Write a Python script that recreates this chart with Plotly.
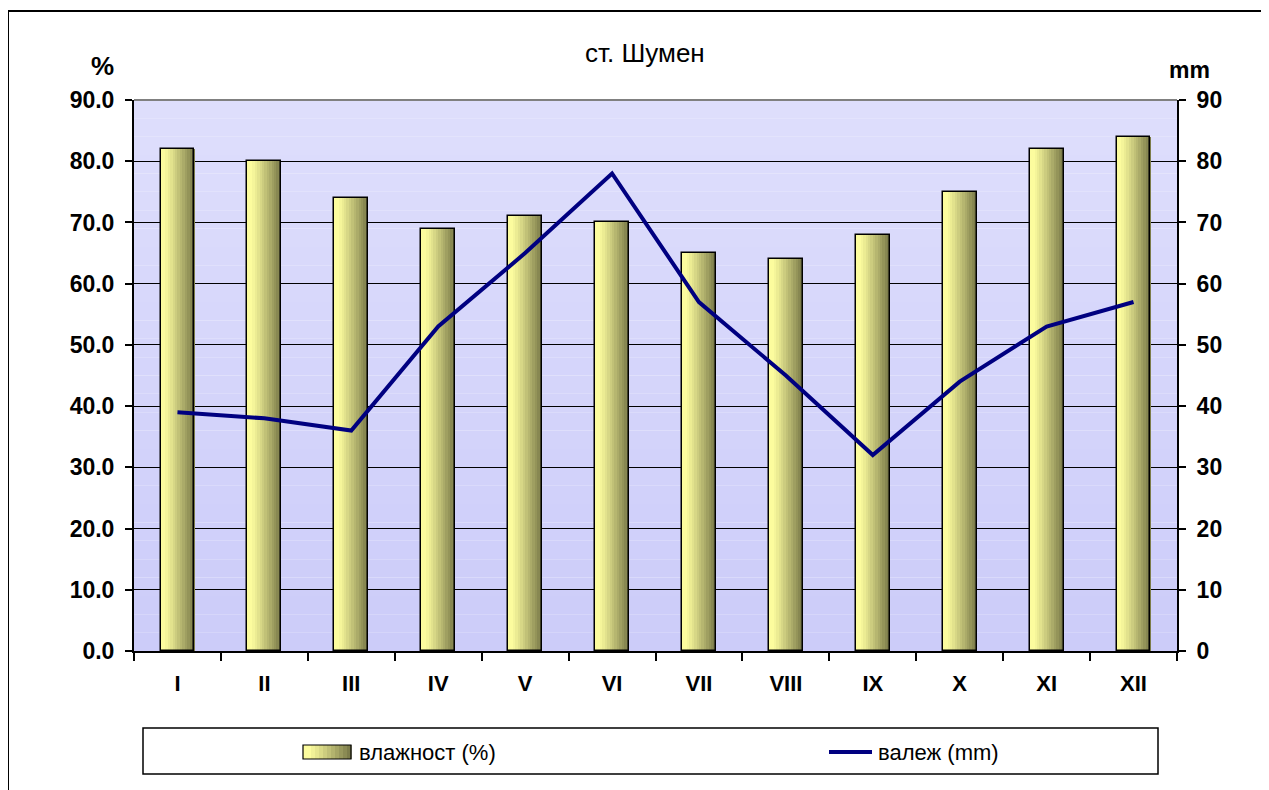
import plotly.graph_objects as go

months = ["I", "II", "III", "IV", "V", "VI", "VII", "VIII", "IX", "X", "XI", "XII"]
humidity = [82, 80, 74, 69, 71, 70, 65, 64, 68, 75, 82, 84]
precip = [39, 38, 36, 53, 65, 78, 57, 45, 32, 44, 53, 57]
y_ticks = [0, 10, 20, 30, 40, 50, 60, 70, 80, 90]

W, H = 1269, 790
OFF = 8  # page body margin
L, R, T, B = 134 - OFF, 1177 - OFF, 100 - OFF, 651 - OFF
FONT = "Arial, 'Liberation Sans', sans-serif"


def px(x):
    return (x - OFF - L) / (R - L)


def py(y):
    return (B - (y - OFF)) / (B - T)


def lerp(c1, c2, t):
    return "rgb(%d,%d,%d)" % tuple(round(a + (b - a) * t) for a, b in zip(c1, c2))


light = (252, 252, 158)
dark = (118, 118, 70)


def grad_color(t):
    t2 = max(0.0, (t - 0.12) / 0.88)
    return lerp(light, dark, t2 ** 1.1)


fig = go.Figure()

bar_w = 0.39
n = 14
sw = bar_w / n
for i in range(n):
    fig.add_trace(go.Bar(
        x=months, y=humidity, width=sw * 1.05, offset=-bar_w / 2 + i * sw,
        marker=dict(color=grad_color((i + 0.5) / n), line=dict(width=0)),
        showlegend=False, hoverinfo="skip",
    ))
fig.add_trace(go.Bar(
    x=months, y=humidity, width=bar_w, offset=-bar_w / 2,
    marker=dict(color="rgba(0,0,0,0)", line=dict(color="black", width=1.5)),
    name="влажност (%)", showlegend=False,
))
fig.add_trace(go.Scatter(
    x=months, y=precip, yaxis="y2", mode="lines",
    line=dict(color="#000080", width=4), name="валеж (mm)", showlegend=False,
))

shapes = []
nb = 30
top_c, bot_c = (222, 222, 252), (204, 204, 249)
for i in range(nb):
    shapes.append(dict(type="rect", xref="paper", yref="paper", layer="below",
                       x0=0, x1=1, y0=1 - (i + 1) / nb, y1=1 - i / nb,
                       fillcolor=lerp(top_c, bot_c, i / (nb - 1)), line=dict(width=0)))
shapes.append(dict(type="line", xref="paper", yref="paper", x0=0, x1=1, y0=1, y1=1,
                   line=dict(color="#808080", width=2)))
# outer chart border
shapes.append(dict(type="rect", xref="paper", yref="paper",
                   x0=px(8), x1=px(1300), y0=py(11), y1=py(820),
                   line=dict(color="black", width=2), fillcolor="rgba(0,0,0,0)"))
# legend box
shapes.append(dict(type="rect", xref="paper", yref="paper",
                   x0=px(143), x1=px(1158), y0=py(728), y1=py(774),
                   line=dict(color="black", width=1.5), fillcolor="white"))
sx0, sx1, sy0, sy1 = 303, 351, 745, 759
ns = 12
for i in range(ns):
    a = sx0 + (sx1 - sx0) * i / ns
    b = sx0 + (sx1 - sx0) * (i + 1) / ns
    shapes.append(dict(type="rect", xref="paper", yref="paper",
                       x0=px(a), x1=px(b) + 0.0005, y0=py(sy0), y1=py(sy1),
                       fillcolor=grad_color((i + 0.5) / ns), line=dict(width=0)))
shapes.append(dict(type="rect", xref="paper", yref="paper",
                   x0=px(sx0), x1=px(sx1), y0=py(sy0), y1=py(sy1),
                   line=dict(color="black", width=1.2), fillcolor="rgba(0,0,0,0)"))
shapes.append(dict(type="line", xref="paper", yref="paper",
                   x0=px(829), x1=px(872), y0=py(752), y1=py(752),
                   line=dict(color="#000080", width=4)))


def ann(text, x, y, size, xanchor="center"):
    return dict(text=text, x=px(x), y=py(y), xref="paper", yref="paper",
                xanchor=xanchor, yanchor="middle", showarrow=False,
                font=dict(size=size, color="black", family=FONT))


annotations = [
    ann("ст. Шумен", 645, 53, 26),
    ann("<b>%</b>", 102, 66, 26),
    ann("<b>mm</b>", 1189, 70, 23),
    ann("влажност (%)", 357, 752, 22, "left"),
    ann("валеж (mm)", 876, 752, 22, "left"),
]

tick_font = dict(size=23, family=FONT, weight="bold")

fig.update_layout(
    width=W, height=H,
    margin=dict(l=L, r=W - R, t=T, b=H - B, pad=0),
    paper_bgcolor="white", plot_bgcolor="rgba(0,0,0,0)",
    barmode="overlay", bargap=0,
    showlegend=False,
    font=dict(family=FONT, color="black"),
    xaxis=dict(
        type="category", tickson="boundaries", ticks="outside", ticklen=8,
        tickwidth=1.5, tickcolor="black", showline=True, linecolor="black",
        linewidth=2, showgrid=False, range=[-0.5, 11.5],
        ticklabelstandoff=12,
        tickfont=dict(size=22, family=FONT, weight="bold"),
    ),
    yaxis=dict(
        range=[0, 90], tickvals=y_ticks, tickformat=".1f", ticks="outside",
        ticklen=7, tickwidth=1.5, tickcolor="black", showline=True,
        linecolor="black", linewidth=2, showgrid=True, gridcolor="black",
        gridwidth=1.2, zeroline=False, tickfont=tick_font,
        ticklabelstandoff=6,
    ),
    yaxis2=dict(
        range=[0, 90], tickvals=y_ticks, tickformat="d", overlaying="y",
        side="right", ticks="outside", ticklen=7, tickwidth=1.5,
        tickcolor="black", showline=True, linecolor="black", linewidth=2,
        showgrid=False, zeroline=False, tickfont=tick_font,
        ticklabelstandoff=6,
    ),
    shapes=shapes,
    annotations=annotations,
)

fig.write_html("out.html")
